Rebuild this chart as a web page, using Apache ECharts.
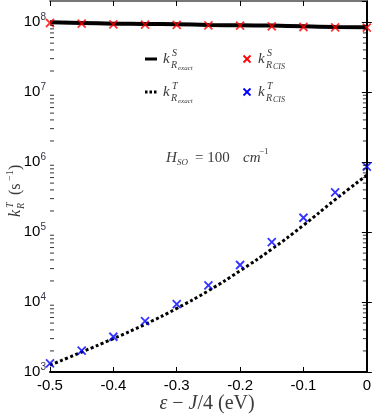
<!DOCTYPE html>
<html>
<head>
<meta charset="utf-8">
<script src="https://cdn.jsdelivr.net/npm/echarts@6/dist/echarts.min.js"></script>
<style>
  html, body { margin: 0; padding: 0; background: #fff; }
  #chart { width: 374px; height: 419px; }
</style>
</head>
<body>
<div id="chart"></div>
<script>
(function(){
  'use strict';
  // detuning values (eV)
  var energies = [-0.5, -0.45, -0.4, -0.35, -0.3, -0.25, -0.2, -0.15, -0.1, -0.05, 0];
  // singlet radiative rates (s^-1)
  var singletExact = [9.9e7, 9.7e7, 9.5e7, 9.4e7, 9.3e7, 9.1e7, 9.0e7, 8.9e7, 8.7e7, 8.5e7, 8.4e7];
  var singletCIS = [9.7e7, 9.5e7, 9.3e7, 9.2e7, 9.1e7, 9.0e7, 8.9e7, 8.7e7, 8.5e7, 8.4e7, 8.3e7];
  // triplet radiative rates (s^-1)
  var tripletExact = [1250, 1930, 3000, 4800, 8100, 14500, 28000, 57000, 125000, 290000, 650000];
  var tripletCIS = [1330, 2015, 3190, 5350, 9360, 17300, 33800, 72000, 160000, 369000, 857000];
  var xTicks = ['-0.5', '-0.4', '-0.3', '-0.2', '-0.1', '0'];
  // log minor tick multipliers inside each decade
  var minorSteps = [2, 3, 4, 5, 6, 7, 8, 9];
  var decades = [3, 4, 5, 6, 7, 8];

  var SERIF = '"Liberation Serif", serif';
  var SANS = '"Liberation Sans", Arial, sans-serif';
  var TXT = '#3a3a3a';
  var CROSS = 'path://M0,0L10,10M10,0L0,10';
  var xMin = -0.5, xMax = 0, yMin = 1e3, yMax = 2e8;

  function pairs(ys){ return energies.map(function(x, i){ return [x, ys[i]]; }); }

  var minorLeft = [], minorRight = [];
  decades.forEach(function(d){
    minorSteps.forEach(function(m){
      var v = m * Math.pow(10, d);
      if(v < yMax){ minorLeft.push([xMin, v]); minorRight.push([xMax, v]); }
    });
  });

  function t(x, y, txt, size, italic){
    return { type: 'text', x: x, y: y, silent: true, style: {
      text: txt, font: (italic ? 'italic ' : '') + size + 'px ' + SERIF,
      fill: TXT, verticalAlign: 'middle', align: 'left' } };
  }
  function cross(cx, cy, color){
    return { type: 'group', x: cx, y: cy, silent: true, children: [
      { type: 'line', shape: { x1: -3.5, y1: -3.5, x2: 3.5, y2: 3.5 }, style: { stroke: color, lineWidth: 1.8 } },
      { type: 'line', shape: { x1: 3.5, y1: -3.5, x2: -3.5, y2: 3.5 }, style: { stroke: color, lineWidth: 1.8 } }
    ]};
  }

  var graphics = [
    // legend row 1
    { type: 'line', silent: true, shape: { x1: 145, y1: 59, x2: 157, y2: 59 }, style: { stroke: '#000', lineWidth: 3 } },
    t(163, 59, 'k', 15, true), t(172, 53, 'S', 10, true), t(171, 65, 'R', 10, true), t(178, 68, 'exact', 7, true),
    cross(247, 59, '#ff0000'),
    t(258, 59, 'k', 15, true), t(267, 53, 'S', 10, true), t(266, 65, 'R', 10, true), t(273, 67, 'CIS', 8, true),
    // legend row 2
    { type: 'line', silent: true, shape: { x1: 145, y1: 92, x2: 157, y2: 92 }, style: { stroke: '#000', lineWidth: 3, lineDash: [2.5, 2] } },
    t(163, 92, 'k', 15, true), t(172, 86, 'T', 10, true), t(171, 98, 'R', 10, true), t(178, 101, 'exact', 7, true),
    cross(247, 92, '#0000ff'),
    t(258, 92, 'k', 15, true), t(267, 86, 'T', 10, true), t(266, 98, 'R', 10, true), t(273, 100, 'CIS', 8, true),
    // annotation
    t(166, 158, 'H', 15, true), t(177, 163, 'SO', 9, true), t(195, 158, '= 100', 15, false),
    t(243, 158, 'cm', 15, true), t(259, 152, '\u22121', 9, false),
    // x axis title
    { type: 'text', x: 207, y: 404, silent: true, style: {
      text: '{i|\u03b5} \u2212 {i|J}/4 (eV)', font: '20px ' + SERIF, fill: TXT, align: 'center', verticalAlign: 'middle',
      rich: { i: { fontStyle: 'italic', fontSize: 20, fontFamily: SERIF, fill: TXT } } } },
    // y axis title, reading bottom to top
    { type: 'group', x: 16, y: 217, rotation: Math.PI / 2, silent: true, children: [
      t(0, 0, 'k', 16, true), t(9, -6, 'T', 10, true), t(8, 5, 'R', 10, true),
      t(22, 0, '(s', 16, false), t(36, -6, '\u22121', 10, false), t(47, 0, ')', 16, false)
    ]}
  ];

  var chart = echarts.init(document.getElementById('chart'), null, { renderer: 'canvas' });

  function yAxis(pos, showLabel){
    return {
      type: 'log', logBase: 10, position: pos, min: yMin, max: yMax,
      axisLine: { show: true, lineStyle: { color: '#000', width: 2 } },
      axisTick: { show: true, inside: true, length: 5, lineStyle: { color: '#000', width: 1 } },
      splitLine: { show: false },
      axisLabel: {
        show: showLabel, margin: 4, showMaxLabel: false,
        formatter: function(v){
          var e = Math.round(Math.log(v) / Math.LN10);
          return '{b|10}{s|' + e + '}';
        },
        rich: {
          b: { fontSize: 15, color: '#000', fontFamily: SANS },
          s: { fontSize: 10, color: '#334', fontFamily: SANS, padding: [0, 0, 9, 0] }
        }
      }
    };
  }
  function xAxis(pos, showLabel, lineColor){
    return {
      type: 'value', position: pos, min: xMin, max: xMax, interval: 0.1,
      axisLine: { show: true, onZero: false, lineStyle: { color: lineColor, width: 2 } },
      axisTick: { show: true, inside: true, length: 5, lineStyle: { color: '#000', width: 1 } },
      splitLine: { show: false },
      axisLabel: {
        show: showLabel, margin: 6, fontSize: 15, color: '#000', fontFamily: SANS,
        formatter: function(v){
          var i = Math.round((v - xMin) / 0.1);
          return xTicks[i] || '';
        }
      }
    };
  }
  function minorSeries(name, data, offset){
    return { name: name, type: 'scatter', data: data, silent: true, clip: false, z: 5,
      symbol: 'rect', symbolSize: [4, 1], symbolOffset: [offset, 0],
      itemStyle: { color: '#000' } };
  }

  chart.setOption({
    animation: false,
    backgroundColor: '#fff',
    grid: { left: 50, right: 5, top: 1, bottom: 47, containLabel: false },
    xAxis: [xAxis('bottom', true, '#000'), xAxis('top', false, '#777')],
    yAxis: [yAxis('left', true), yAxis('right', false)],
    series: [
      { name: 'kS exact', type: 'line', data: pairs(singletExact), showSymbol: false, smooth: true,
        lineStyle: { color: '#000', width: 4 }, z: 2 },
      { name: 'kS CIS', type: 'scatter', data: pairs(singletCIS), symbol: CROSS, symbolSize: 8,
        itemStyle: { color: 'none', borderColor: '#ff0000', borderWidth: 1.8 }, z: 3 },
      { name: 'kT exact', type: 'line', data: pairs(tripletExact), showSymbol: false, smooth: true,
        lineStyle: { color: '#000', width: 3, type: [3, 2.5] }, z: 2 },
      { name: 'kT CIS', type: 'scatter', data: pairs(tripletCIS), symbol: CROSS, symbolSize: 8,
        itemStyle: { color: 'none', borderColor: '#0000ff', borderWidth: 1.8 }, z: 3 },
      minorSeries('minor left', minorLeft, 2),
      minorSeries('minor right', minorRight, -2)
    ],
    graphic: { elements: graphics }
  });
})();
</script>
</body>
</html>
